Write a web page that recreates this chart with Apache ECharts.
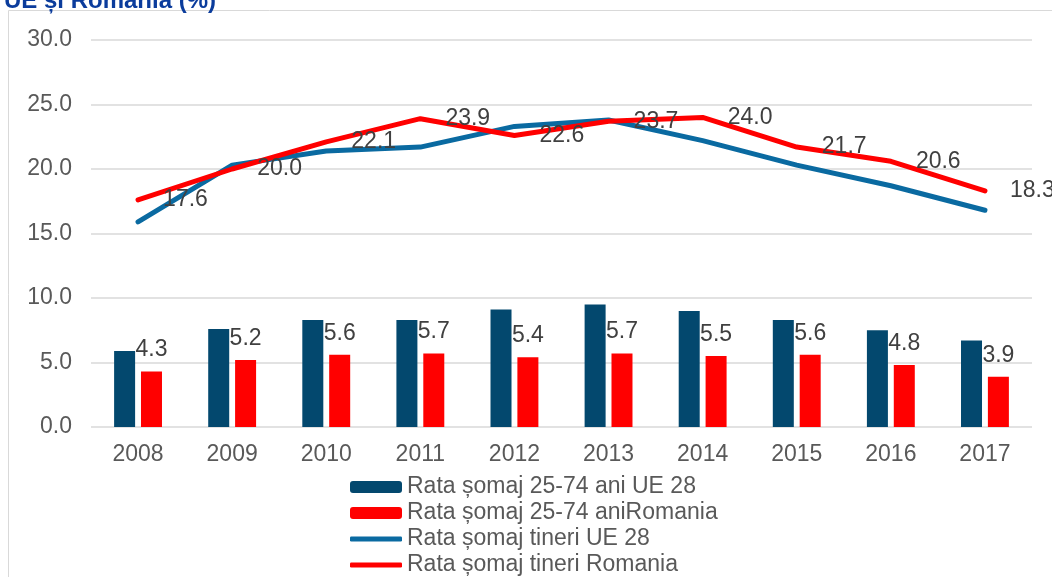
<!DOCTYPE html>
<html>
<head>
<meta charset="utf-8">
<script src="https://cdn.jsdelivr.net/npm/echarts@6/dist/echarts.min.js"></script>
<style>
  html, body { margin: 0; padding: 0; background: #fff; }
  #main { width: 1052px; height: 577px; }
</style>
</head>
<body>
<div id="main"></div>
<script>
// ani
const years = ['2008', '2009', '2010', '2011', '2012', '2013', '2014', '2015', '2016', '2017'];
// rata somaj 25-74 ani
const somajUE = [5.9, 7.6, 8.3, 8.3, 9.1, 9.5, 9.0, 8.3, 7.5, 6.7];
const somajRO = [4.3, 5.2, 5.6, 5.7, 5.4, 5.7, 5.5, 5.6, 4.8, 3.9];
// rata somaj tineri
const tineriUE = [15.9, 20.3, 21.4, 21.7, 23.3, 23.8, 22.2, 20.3, 18.7, 16.8];
const tineriRO = [17.6, 20.0, 22.1, 23.9, 22.6, 23.7, 24.0, 21.7, 20.6, 18.3];

const seriesNames = [
  'Rata șomaj 25-74 ani UE 28',
  'Rata șomaj 25-74 aniRomania',
  'Rata șomaj tineri UE 28',
  'Rata șomaj tineri Romania'
];

const font = '"Liberation Sans", Arial, sans-serif';
const chart = echarts.init(document.getElementById('main'));

const lbl = {
  show: true,
  color: '#404040',
  fontSize: 23,
  fontFamily: font,
  formatter: p => p.value.toFixed(1)
};

// one legend per row so nothing wraps
function legendRow(i, isLine) {
  return {
    orient: 'vertical',
    left: 345,
    top: 470 + 26 * i,
    itemWidth: 52,
    itemHeight: isLine ? 5 : 12,
    icon: 'roundRect',
    data: [seriesNames[i]],
    textStyle: { color: '#595959', fontSize: 23, fontFamily: font, lineHeight: 24 }
  };
}

chart.setOption({
  animation: false,
  graphic: [
    {
      type: 'rect',
      shape: { x: 8.5, y: 10.5, width: 1100, height: 600 },
      style: { fill: 'none', stroke: '#d9d9d9', lineWidth: 1 },
      silent: true
    },
    {
      type: 'text',
      right: 1052 - 216,
      top: -11,
      style: {
        text: 'Rata șomajului în UE și Romania (%)',
        fill: '#0b3c9c',
        font: 'bold 24px ' + font
      },
      silent: true
    }
  ],
  grid: { left: 91, right: 20, top: 40, bottom: 150 },
  xAxis: {
    type: 'category',
    data: years,
    axisLine: { show: false },
    axisTick: { show: false },
    axisLabel: { color: '#595959', fontSize: 23, fontFamily: font, margin: 16 }
  },
  yAxis: {
    type: 'value',
    min: 0,
    max: 30,
    interval: 5,
    axisLine: { show: false },
    axisTick: { show: false },
    axisLabel: {
      color: '#595959', fontSize: 23, fontFamily: font, margin: 19,
      formatter: v => v.toFixed(1)
    },
    splitLine: { lineStyle: { color: '#d9d9d9', width: 1.5 } }
  },
  legend: [legendRow(0, false), legendRow(1, false), legendRow(2, true), legendRow(3, true)],
  series: [
    {
      name: seriesNames[0],
      type: 'bar',
      data: somajUE,
      barWidth: 21,
      barGap: '28%',
      itemStyle: { color: '#03486e' }
    },
    {
      name: seriesNames[1],
      type: 'bar',
      data: somajRO,
      barWidth: 21,
      itemStyle: { color: '#ff0000' },
      label: Object.assign({ position: 'top', distance: 10 }, lbl)
    },
    {
      name: seriesNames[2],
      type: 'line',
      data: tineriUE,
      symbol: 'circle',
      symbolSize: 0.1,
      lineStyle: { color: '#0a6aa1', width: 5, cap: 'round' },
      itemStyle: { color: '#0a6aa1' }
    },
    {
      name: seriesNames[3],
      type: 'line',
      data: tineriRO,
      symbol: 'circle',
      symbolSize: 0.1,
      lineStyle: { color: '#ff0000', width: 5, cap: 'round' },
      itemStyle: { color: '#ff0000' },
      label: Object.assign({ position: 'right', distance: 25 }, lbl),
      labelLayout: { hideOverlap: false }
    }
  ]
});
</script>
</body>
</html>
